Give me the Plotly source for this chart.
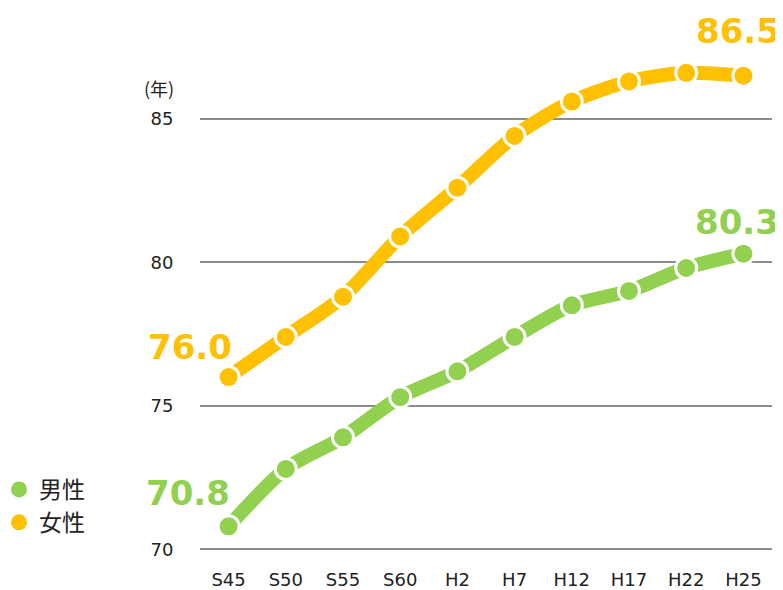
import plotly.graph_objects as go

categories = ["S45", "S50", "S55", "S60", "H2", "H7", "H12", "H17", "H22", "H25"]
male = [70.8, 72.8, 73.9, 75.3, 76.2, 77.4, 78.5, 79.0, 79.8, 80.3]
female = [76.0, 77.4, 78.8, 80.9, 82.6, 84.4, 85.6, 86.3, 86.6, 86.5]
series_names = ["男性", "女性"]
colors = ["#92D050", "#FFC000"]
y_ticks = [70, 75, 80, 85]

# page body has an 8px margin; figure sized to fit the viewport exactly
OFF = 8
W, H = 783 - OFF, 590 - OFF

fig = go.Figure()

for name, vals, col in [(series_names[0], male, colors[0]), (series_names[1], female, colors[1])]:
    fig.add_trace(go.Scatter(
        x=categories, y=vals, mode="lines+markers", name=name, showlegend=False,
        line=dict(color=col, width=14, shape="spline", smoothing=0.8),
        marker=dict(color=col, size=21, line=dict(color="white", width=3)),
        cliponaxis=False,
    ))

for name, col in zip(series_names, colors):
    fig.add_trace(go.Scatter(
        x=[None], y=[None], mode="markers", name=name,
        marker=dict(color=col, size=17),
    ))

label_font = dict(family="DejaVu Sans", size=34, weight="bold")
anns = [
    dict(x=categories[-1], y=female[-1], text=f"{female[-1]:.1f}", xshift=-5, yshift=45, color=colors[1]),
    dict(x=categories[-1], y=male[-1], text=f"{male[-1]:.1f}", xshift=-6, yshift=32, color=colors[0]),
    dict(x=categories[0], y=female[0], text=f"{female[0]:.1f}", xshift=-39, yshift=30, color=colors[1]),
    dict(x=categories[0], y=male[0], text=f"{male[0]:.1f}", xshift=-41, yshift=33, color=colors[0]),
]
for a in anns:
    fig.add_annotation(x=a["x"], y=a["y"], xref="x", yref="y", text=a["text"],
                       showarrow=False, xshift=a["xshift"], yshift=a["yshift"],
                       font=dict(label_font, color=a["color"]))

# plot area in viewport pixels: left 200, right 772, y=70 at 549, 28.67 px / year
L = 200 - OFF
R = W - (772 - OFF)
T = 47 - OFF
B = H - (555 - OFF)
pw, ph = W - L - R, H - T - B

fig.add_annotation(x=(159 - OFF - L) / pw, y=(H - B - (88 - OFF)) / ph,
                   xref="paper", yref="paper", text="(年)",
                   showarrow=False, xanchor="center", yanchor="middle",
                   font=dict(family="Noto Sans CJK JP", size=18, color="#222"))

fig.update_layout(
    width=W, height=H,
    margin=dict(l=L, r=R, t=T, b=B, autoexpand=False),
    plot_bgcolor="white", paper_bgcolor="white",
    font=dict(family="DejaVu Sans", size=18, color="#222"),
    legend=dict(xref="paper", yref="paper", x=(-9 - L) / pw, xanchor="left",
                y=(H - B - 460) / ph, yanchor="top",
                font=dict(family="Noto Sans CJK JP", size=23, color="#222"),
                itemwidth=30, tracegroupgap=0, bgcolor="rgba(0,0,0,0)"),
    xaxis=dict(type="category", range=[-0.5, 9.5], showgrid=False, zeroline=False,
               showline=False, ticks="outside", ticklen=8, tickcolor="rgba(0,0,0,0)",
               tickfont=dict(size=18), automargin=False),
    yaxis=dict(range=[69.8, 87.5], tickvals=y_ticks, showgrid=True, gridcolor="#8C8C8C",
               gridwidth=2, zeroline=False, showline=False, ticks="outside", ticklen=22,
               tickcolor="rgba(0,0,0,0)", tickfont=dict(size=18), automargin=False),
)

fig.write_html("out.html")
